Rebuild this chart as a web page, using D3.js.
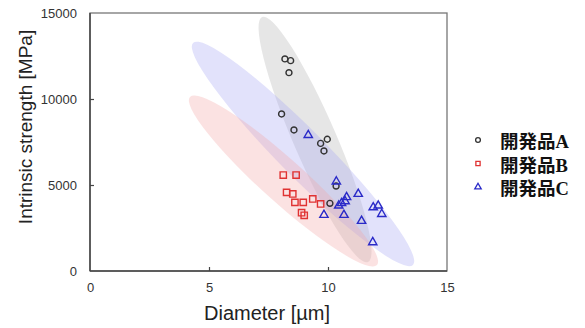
<!DOCTYPE html>
<html>
<head>
<meta charset="utf-8">
<script src="https://cdn.jsdelivr.net/npm/d3@7"></script>
<style>
  body { margin: 0; background: #fff; }
  svg { display: block; }
</style>
</head>
<body>
<figure id="chart" style="margin:0"></figure>
<script>
// product A (circles)
const aDiameter = [8.19, 8.43, 8.36, 8.05, 8.57, 9.97, 9.69, 9.83, 10.34, 10.08];
const aStrength = [12330, 12230, 11530, 9130, 8200, 7660, 7420, 6980, 4940, 3935];
// product B (squares)
const bDiameter = [8.12, 8.66, 8.26, 8.52, 8.61, 8.96, 9.36, 9.69, 8.89, 9.0];
const bStrength = [5580, 5580, 4570, 4480, 3990, 3990, 4190, 3900, 3390, 3240];
// product C (triangles)
const cDiameter = [9.17, 10.35, 10.78, 11.27, 10.57, 10.45, 9.83, 10.67, 11.41, 11.9, 12.11, 12.26, 11.88, 10.72];
const cStrength = [7900, 5200, 4290, 4480, 3940, 3800, 3260, 3260, 2910, 3700, 3800, 3310, 1670, 4050];

const seriesNames = ["開発品A", "開発品B", "開発品C"];
const xTicks = [0, 5, 10, 15];
const yTicks = [0, 5000, 10000, 15000];

// shaded ellipses: the two ends of the long axis (diameter, strength) and width ratio
const ellipseEnds = [
  [[7.23, 14770], [11.68, 520]],
  [[4.33, 13260], [13.57, 350]],
  [[4.2, 10120], [12.06, 350]]
];
const ellipseRatio = [0.16, 0.15, 0.17];

const width = 585, height = 328;
const mLeft = 90, mRight = 447, mTop = 13, mBottom = 271;

const svg = d3.select("#chart").append("svg")
  .attr("width", width).attr("height", height);

const x = d3.scaleLinear().domain([0, 15]).range([mLeft, mRight]);
const y = d3.scaleLinear().domain([0, 15000]).range([mBottom, mTop]);

const colors = ["#8a8a8a", "#2a2ac8", "#e03232"];
const fills = ["#b0b0b0", "#a4a4f2", "#f4a6a6"];

// ellipses
const eg = svg.append("g");
ellipseEnds.forEach((e, i) => {
  const x1 = x(e[0][0]), y1 = y(e[0][1]), x2 = x(e[1][0]), y2 = y(e[1][1]);
  const cx = (x1 + x2) / 2, cy = (y1 + y2) / 2;
  const rx = Math.hypot(x2 - x1, y2 - y1) / 2;
  const ang = Math.atan2(y2 - y1, x2 - x1) * 180 / Math.PI;
  eg.append("ellipse")
    .attr("cx", 0).attr("cy", 0)
    .attr("rx", rx).attr("ry", rx * ellipseRatio[i])
    .attr("transform", "translate(" + cx + "," + cy + ") rotate(" + ang + ")")
    .attr("fill", fills[i])
    .attr("fill-opacity", 0.32);
});

// frame
svg.append("rect")
  .attr("x", mLeft).attr("y", mTop)
  .attr("width", mRight - mLeft).attr("height", mBottom - mTop)
  .attr("fill", "none").attr("stroke", "#777").attr("stroke-width", 1.3);
svg.append("line")
  .attr("x1", mLeft).attr("x2", mLeft).attr("y1", mTop).attr("y2", mBottom)
  .attr("stroke", "#444").attr("stroke-width", 1.5);
svg.append("line")
  .attr("x1", mLeft).attr("x2", mRight).attr("y1", mBottom).attr("y2", mBottom)
  .attr("stroke", "#444").attr("stroke-width", 1.5);

// axes
const xAxis = svg.append("g")
  .attr("transform", "translate(0," + mBottom + ")")
  .call(d3.axisBottom(x).tickValues(xTicks).tickSize(-4).tickPadding(12));
const yAxis = svg.append("g")
  .attr("transform", "translate(" + mLeft + ",0)")
  .call(d3.axisLeft(y).tickValues(yTicks).tickFormat(d3.format("d")).tickSize(-4).tickPadding(13));
[xAxis, yAxis].forEach(a => {
  a.select(".domain").remove();
  a.selectAll("line").attr("stroke", "#444").attr("stroke-width", 1.2);
  a.selectAll("text")
    .attr("font-family", "Liberation Sans, Arial, sans-serif")
    .attr("font-size", 13).attr("fill", "#333");
});
xAxis.selectAll(".tick").filter(d => d === 0 || d === 15).select("line").remove();
yAxis.selectAll(".tick").filter(d => d === 0 || d === 15000).select("line").remove();

svg.append("text")
  .attr("x", 267).attr("y", 320)
  .attr("text-anchor", "middle")
  .attr("font-family", "Liberation Sans, Arial, sans-serif")
  .attr("font-size", 20).attr("fill", "#222")
  .text("Diameter [µm]");
svg.append("text")
  .attr("transform", "translate(32," + 127 + ") rotate(-90)")
  .attr("text-anchor", "middle")
  .attr("font-family", "Liberation Sans, Arial, sans-serif")
  .attr("font-size", 19).attr("fill", "#222")
  .text("Intrinsic strength [MPa]");

// points
const pts = svg.append("g").attr("fill", "none").attr("stroke-width", 1.4);
const circleSym = d3.symbol().type(d3.symbolCircle).size(28);
const squareSym = d3.symbol().type(d3.symbolSquare).size(40);
const triSym = d3.symbol().type(d3.symbolTriangle).size(30);

pts.selectAll(".a").data(d3.zip(aDiameter, aStrength)).enter()
  .append("path").attr("d", circleSym)
  .attr("transform", d => "translate(" + x(d[0]) + "," + y(d[1]) + ")")
  .attr("stroke", "#333");
pts.selectAll(".b").data(d3.zip(bDiameter, bStrength)).enter()
  .append("path").attr("d", squareSym)
  .attr("transform", d => "translate(" + x(d[0]) + "," + y(d[1]) + ")")
  .attr("stroke", colors[2]);
pts.selectAll(".c").data(d3.zip(cDiameter, cStrength)).enter()
  .append("path").attr("d", triSym)
  .attr("transform", d => "translate(" + x(d[0]) + "," + y(d[1]) + ")")
  .attr("stroke", colors[1]);

// legend
const legStroke = ["#333", colors[2], colors[1]];
const leg = svg.append("g");
seriesNames.forEach((name, i) => {
  const ly = 142 + i * 23.5;
  leg.append("path")
    .attr("d", d3.symbol().type([d3.symbolCircle, d3.symbolSquare, d3.symbolTriangle][i]).size(18))
    .attr("transform", "translate(478," + (ly - 2) + ")")
    .attr("fill", "none").attr("stroke", legStroke[i]).attr("stroke-width", 1.3);
  leg.append("text")
    .attr("x", 500).attr("y", ly + 6)
    .attr("font-family", "Liberation Serif, 'Noto Sans CJK JP', serif")
    .attr("font-weight", "bold")
    .attr("font-size", 18.5).attr("fill", "#111")
    .text(name);
});
</script>
</body>
</html>
